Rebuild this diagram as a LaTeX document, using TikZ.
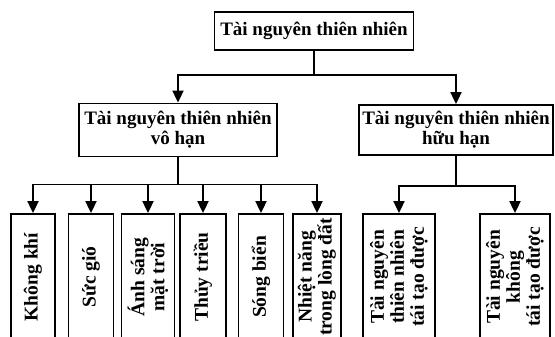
\documentclass[tikz,border=0pt]{standalone}
\usepackage{fontspec}
\setmainfont{Liberation Serif}
\usetikzlibrary{arrows.meta}

\tikzset{
    box/.style={draw, line width=1.8pt, inner sep=0pt, align=center,
        font=\fontsize{19}{20}\selectfont\bfseries},
    vbox/.style={box, rotate=90, minimum width=126pt,
        font=\fontsize{19.5}{20}\selectfont\bfseries},
    link/.style={line width=1.8pt, ->}
}

\begin{document}
\begin{tikzpicture}[x=1pt, y=-1pt, >={Triangle[width=11pt,length=12pt]}]
        \useasboundingbox (0,0) rectangle (555,337);
        \clip (0,0) rectangle (555,337);

        \node[box, minimum width=199pt, minimum height=38pt] (A) at (314, 31) {Tài nguyên thiên nhiên};
        \node[box, minimum width=198pt, minimum height=53pt] (B) at (178, 130) {Tài nguyên thiên nhiên\\vô hạn};
        \node[box, minimum width=194pt, minimum height=50pt] (C) at (456, 130) {Tài nguyên thiên nhiên\\hữu hạn};

        \node[vbox, minimum height=44pt] (D) at (33, 277) {Không khí};
        \node[vbox, minimum height=45pt] (E) at (91, 277) {Sức gió};
        \node[vbox, minimum height=53pt] (F) at (148, 277) {Ánh sáng\\mặt trời};
        \node[vbox, minimum height=46pt] (G) at (203, 277) {Thủy triều};
        \node[vbox, minimum height=45pt] (H) at (261, 277) {Sóng biển};
        \node[vbox, minimum height=48pt] (I) at (317, 277) {Nhiệt năng\\trong lòng đất};
        \node[vbox, minimum height=72pt] (J) at (399, 277) {Tài nguyên\\thiên nhiên\\tái tạo được};
        \node[vbox, minimum height=70pt] (K) at (515, 277) {Tài nguyên\\không\\tái tạo được};

        \draw[link] (A.south) -- ++(0, 24) -| (B.north);
        \draw[link] (A.south) -- ++(0, 24) -| (C.north);

        \draw[link] (B.south) -- ++(0, 27) -| (D.east);
        \draw[link] (B.south) -- ++(0, 27) -| (E.east);
        \draw[link] (B.south) -- ++(0, 27) -| (F.east);
        \draw[link] (B.south) -- ++(0, 27) -| (G.east);
        \draw[link] (B.south) -- ++(0, 27) -| (H.east);
        \draw[link] (B.south) -- ++(0, 27) -| (I.east);

        \draw[link] (C.south) -- ++(0, 30) -| (J.east);
        \draw[link] (C.south) -- ++(0, 30) -| (K.east);
\end{tikzpicture}
\end{document}
